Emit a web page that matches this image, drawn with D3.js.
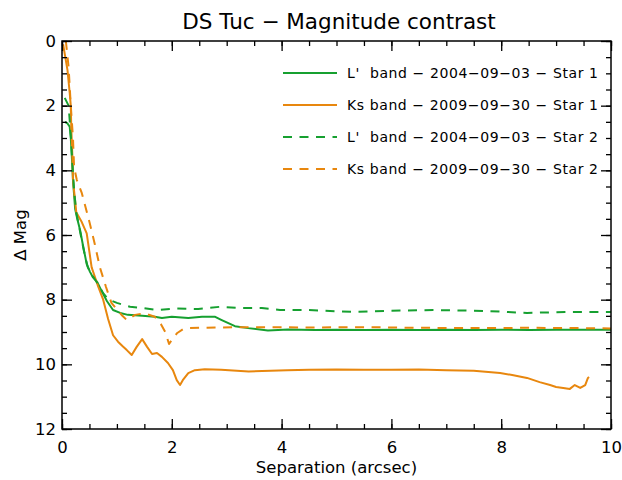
<!DOCTYPE html>
<html><head><meta charset="utf-8">
<script src="https://cdn.jsdelivr.net/npm/d3@7"></script>
<style>body{margin:0;background:#fff}svg{display:block}text{font-family:"DejaVu Sans",sans-serif;fill:#000}</style>
</head><body><div id="chart"></div>
<script>
const title = "DS Tuc \u2212 Magnitude contrast";
const xLabel = "Separation (arcsec)";
const yLabel = "\u0394 Mag";
const xTicks = [0, 2, 4, 6, 8, 10];
const yTicks = [0, 2, 4, 6, 8, 10, 12];
const seriesNames = [
  "L'  band \u2212 2004\u221209\u221203 \u2212 Star 1",
  "Ks band \u2212 2009\u221209\u221230 \u2212 Star 1",
  "L'  band \u2212 2004\u221209\u221203 \u2212 Star 2",
  "Ks band \u2212 2009\u221209\u221230 \u2212 Star 2"
];
// [separation arcsec, delta mag]
const lband1 = [[0.05,2.5],[0.1,2.55],[0.14,2.65],[0.16,3.0],[0.18,3.6],[0.2,4.3],[0.24,5.2],[0.27,5.44],[0.33,5.85],[0.38,6.3],[0.45,6.9],[0.51,7.14],[0.56,7.3],[0.64,7.45],[0.73,7.76],[0.82,8.05],[0.93,8.32],[1.06,8.41],[1.2,8.47],[1.46,8.5],[1.69,8.53],[1.82,8.57],[2.0,8.53],[2.3,8.57],[2.55,8.53],[2.79,8.53],[2.91,8.63],[3.15,8.82],[3.39,8.88],[3.75,8.95],[4.12,8.92],[4.6,8.94],[5.0,8.93],[5.5,8.94],[6.0,8.93],[6.5,8.94],[7.0,8.93],[7.5,8.94],[8.0,8.93],[8.5,8.94],[9.0,8.93],[9.5,8.93],[10.0,8.93]];
const ksband1 = [[0.02,0.1],[0.05,0.4],[0.1,0.9],[0.14,1.6],[0.16,2.0],[0.17,2.75],[0.19,3.6],[0.2,4.3],[0.23,4.8],[0.26,5.3],[0.3,5.42],[0.36,5.6],[0.45,5.95],[0.54,7.0],[0.6,7.3],[0.66,7.6],[0.75,8.0],[0.84,8.6],[0.93,9.1],[1.02,9.3],[1.11,9.45],[1.18,9.56],[1.27,9.71],[1.36,9.46],[1.46,9.22],[1.55,9.46],[1.64,9.68],[1.73,9.65],[1.82,9.77],[1.93,9.96],[2.02,10.18],[2.09,10.49],[2.15,10.64],[2.2,10.49],[2.3,10.27],[2.42,10.18],[2.6,10.15],[2.9,10.17],[3.4,10.22],[4.1,10.18],[4.5,10.17],[5.0,10.16],[5.5,10.17],[6.0,10.17],[6.5,10.16],[7.0,10.18],[7.5,10.2],[7.98,10.27],[8.2,10.33],[8.47,10.42],[8.7,10.55],[8.89,10.64],[9.0,10.7],[9.13,10.73],[9.25,10.76],[9.34,10.64],[9.44,10.73],[9.53,10.64],[9.58,10.42],[9.6,10.39]];
const lband2 = [[0.05,1.76],[0.12,2.0],[0.16,2.9],[0.19,3.8],[0.22,4.6],[0.26,5.3],[0.33,5.9],[0.4,6.5],[0.47,7.0],[0.55,7.25],[0.65,7.5],[0.75,7.8],[0.85,8.0],[1.0,8.1],[1.24,8.22],[1.48,8.26],[1.75,8.32],[2.09,8.27],[2.48,8.29],[2.88,8.22],[3.28,8.26],[3.64,8.26],[3.97,8.32],[4.46,8.32],[5.3,8.38],[6.0,8.34],[6.76,8.32],[7.74,8.35],[8.47,8.41],[9.2,8.38],[10.0,8.38]];
const ksband2 = [[0.07,0.0],[0.12,0.8],[0.16,2.0],[0.2,3.0],[0.22,3.9],[0.27,4.3],[0.36,4.7],[0.5,5.6],[0.6,6.3],[0.69,7.0],[0.8,7.6],[0.9,8.1],[1.0,8.3],[1.1,8.5],[1.18,8.63],[1.33,8.47],[1.5,8.42],[1.69,8.53],[1.8,8.75],[1.88,9.0],[1.95,9.37],[2.02,9.2],[2.1,9.03],[2.2,8.92],[2.3,8.88],[2.8,8.86],[3.5,8.85],[4.5,8.86],[5.5,8.85],[6.5,8.87],[7.5,8.88],[8.5,8.87],[9.5,8.88],[10.0,8.89]];

const W = 622, H = 480;
const m = {left: 62, right: 11, top: 41, bottom: 51};
const green = "#16a030", orange = "#e8870e";
const series = [
  {data: lband1, color: green, dash: null},
  {data: ksband1, color: orange, dash: null},
  {data: lband2, color: green, dash: "9,7.5"},
  {data: ksband2, color: orange, dash: "9,7.5"}
];

const svg = d3.select("#chart").append("svg").attr("width", W).attr("height", H);
const x = d3.scaleLinear().domain([0, 10]).range([m.left, W - m.right]);
const y = d3.scaleLinear().domain([0, 12]).range([m.top, H - m.bottom]);

const defs = svg.append("defs");
defs.append("clipPath").attr("id", "clip").append("rect")
  .attr("x", m.left).attr("y", m.top).attr("width", W - m.left - m.right).attr("height", H - m.top - m.bottom);

const line = d3.line().x(d => x(d[0])).y(d => y(d[1]));
const g = svg.append("g").attr("clip-path", "url(#clip)");
series.forEach(s => {
  g.append("path").datum(s.data).attr("d", line)
    .attr("fill", "none").attr("stroke", s.color).attr("stroke-width", 2)
    .attr("stroke-linejoin", "round")
    .attr("stroke-dasharray", s.dash);
});

const xMinor = d3.range(0, 10.01, 0.5);
const yMinor = d3.range(0, 12.01, 0.5);
function styleAxis(sel) {
  sel.select(".domain").remove();
  sel.selectAll("line").attr("stroke", "#000").attr("stroke-width", 1.3);
  sel.selectAll("text").attr("font-size", 16.5).attr("font-family", "DejaVu Sans, sans-serif");
}
const bottomY = H - m.bottom, rightX = W - m.right;
svg.append("g").attr("transform", `translate(0,${bottomY})`)
  .call(d3.axisBottom(x).tickValues(xMinor).tickSize(-5).tickFormat("")).call(styleAxis);
svg.append("g").attr("transform", `translate(0,${bottomY})`)
  .call(d3.axisBottom(x).tickValues(xTicks).tickSize(-10).tickPadding(12).tickFormat(d3.format("d"))).call(styleAxis);
svg.append("g").attr("transform", `translate(0,${m.top})`)
  .call(d3.axisTop(x).tickValues(xMinor).tickSize(-5).tickFormat("")).call(styleAxis);
svg.append("g").attr("transform", `translate(0,${m.top})`)
  .call(d3.axisTop(x).tickValues(xTicks).tickSize(-10).tickFormat("")).call(styleAxis);
svg.append("g").attr("transform", `translate(${m.left},0)`)
  .call(d3.axisLeft(y).tickValues(yMinor).tickSize(-5).tickFormat("")).call(styleAxis);
svg.append("g").attr("transform", `translate(${m.left},0)`)
  .call(d3.axisLeft(y).tickValues(yTicks).tickSize(-10).tickPadding(6).tickFormat(d3.format("d"))).call(styleAxis);
svg.append("g").attr("transform", `translate(${rightX},0)`)
  .call(d3.axisRight(y).tickValues(yMinor).tickSize(-5).tickFormat("")).call(styleAxis);
svg.append("g").attr("transform", `translate(${rightX},0)`)
  .call(d3.axisRight(y).tickValues(yTicks).tickSize(-10).tickFormat("")).call(styleAxis);

svg.append("rect").attr("x", m.left).attr("y", m.top)
  .attr("width", W - m.left - m.right).attr("height", H - m.top - m.bottom)
  .attr("fill", "none").attr("stroke", "#000").attr("stroke-width", 1.5);

svg.append("text").attr("x", 339).attr("y", 29)
  .attr("text-anchor", "middle").attr("font-size", 21.5).text(title);
svg.append("text").attr("x", (m.left + rightX) / 2).attr("y", 473)
  .attr("text-anchor", "middle").attr("font-size", 16.5).text(xLabel);
svg.append("text").attr("transform", `translate(26,${(m.top + bottomY) / 2}) rotate(-90)`)
  .attr("text-anchor", "middle").attr("font-size", 16.5).text(yLabel);

const legY = [73, 105, 137, 169];
const leg = svg.append("g");
series.forEach((s, i) => {
  leg.append("line").attr("x1", 283).attr("x2", 337).attr("y1", legY[i]).attr("y2", legY[i])
    .attr("stroke", s.color).attr("stroke-width", 2).attr("stroke-dasharray", s.dash);
  leg.append("text").attr("x", 347).attr("y", legY[i] + 5).attr("font-size", 14)
    .attr("textLength", 251).attr("lengthAdjust", "spacing")
    .style("white-space", "pre").text(seriesNames[i]);
});
</script></body></html>
